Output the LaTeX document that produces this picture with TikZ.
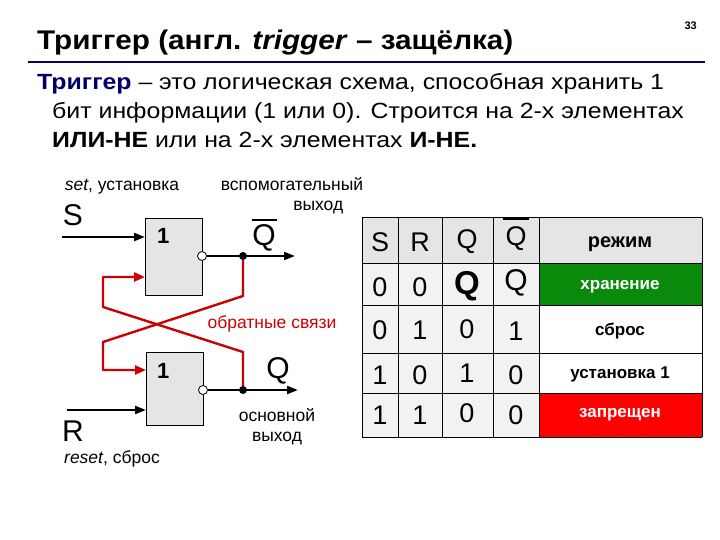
\documentclass[tikz,border=0pt]{standalone}
\usepackage{fontspec}
\setmainfont{Liberation Sans}
\usetikzlibrary{arrows.meta}
\definecolor{navy}{HTML}{000066}
\definecolor{tgreen}{HTML}{0A8A0A}
\definecolor{tred}{HTML}{FF0000}
\definecolor{fbred}{HTML}{CC0000}
\begin{document}
\begin{tikzpicture}[x=1pt,y=-1pt,
  gate/.style={draw,fill=gray!20,line width=1pt},
  wire/.style={line width=2.2pt,-{Triangle[length=11pt,width=8pt]}},
  fb/.style={draw=fbred,line width=2.4pt,line join=round},
  dotn/.style={circle,fill=black,inner sep=0pt,minimum size=8pt},
  inv/.style={circle,draw,fill=white,inner sep=0pt,minimum size=9pt,line width=0.8pt},
  lbl/.style={inner sep=0pt,font=\fontsize{17.5}{20}\selectfont},
  big/.style={inner sep=0pt,font=\fontsize{30}{32}\selectfont},
  cell/.style={draw=black,line width=1pt},
  tv/.style={inner sep=0pt,font=\fontsize{27}{29}\selectfont}]
\useasboundingbox (0,0) rectangle (720,540);
% title
\node[anchor=base west,inner sep=0pt,font=\fontsize{27}{30}\selectfont\bfseries] (title) at (37,50) {\scalebox{1.1}[1]{Триггер (англ. \textit{trigger} – защёлка)}};
\node[anchor=base east,inner sep=0pt,font=\fontsize{11}{12}\selectfont\bfseries] (pg) at (697,30) {33};
\draw[navy,line width=2.2pt] (28,62) coordinate (l1) -- (705,62) coordinate (l2);
\node[anchor=base west,inner sep=0pt,font=\fontsize{22}{24}\selectfont] (p1) at (37,90) {\scalebox{1.13}[1]{\textcolor{navy}{\bfseries Триггер} – это логическая схема, способная хранить 1}};
\node[anchor=base west,inner sep=0pt,font=\fontsize{22}{24}\selectfont] (p2) at (52,119) {\scalebox{1.13}[1]{бит информации (1 или 0). Строится на 2-х элементах}};
\node[anchor=base west,inner sep=0pt,font=\fontsize{22}{24}\selectfont] (p3) at (52,148) {\scalebox{1.13}[1]{\textbf{ИЛИ-НЕ} или на 2-х элементах \textbf{И-НЕ.}}};
% gates
\node[gate,anchor=north west,minimum width=57pt,minimum height=77pt,inner sep=0pt] (g1) at (145,218) {};
\node[gate,anchor=north west,minimum width=57pt,minimum height=73pt,inner sep=0pt] (g2) at (146,352) {};
\node[anchor=north west,inner sep=0pt,font=\fontsize{22}{24}\selectfont\bfseries] (n1) at (157,228) {1};
\node[anchor=north west,inner sep=0pt,font=\fontsize{22}{24}\selectfont\bfseries] (n2) at (157,363) {1};
\node[inv] (i1) at (202,256) {};
\node[inv] (i2) at (203,390) {};
\node[dotn] (d1) at (243,256) {};
\node[dotn] (d2) at (243,390) {};
\coordinate (o1) at (295,256);
\coordinate (o2) at (298,390);
\draw[wire] (i1) -- (o1);
\draw[wire] (i2) -- (o2);
\coordinate (s0) at (62,237); \coordinate (s1) at (145,237);
\coordinate (r0) at (67,410); \coordinate (r1) at (146,410);
\draw[wire] (s0) -- (s1);
\draw[wire] (r0) -- (r1);
% feedback
\coordinate (a1) at (243,296); \coordinate (a2) at (103,342); \coordinate (a3) at (103,370); \coordinate (a4) at (146,370);
\coordinate (b1) at (243,352); \coordinate (b2) at (103,307); \coordinate (b3) at (103,277); \coordinate (b4) at (145,277);
\draw[fb,-{Triangle[length=11pt,width=9pt]}] (d1) -- (a1) -- (a2) -- (a3) -- (a4);
\draw[fb,-{Triangle[length=11pt,width=9pt]}] (d2) -- (b1) -- (b2) -- (b3) -- (b4);
\node[lbl,text=fbred] (fbl) at (272,324) {обратные связи};
% labels
\node[big] (S) at (73,215) {S};
\node[big] (R) at (73,431) {R};
\node[big] (Qb) at (264,238) {Q};
\draw[line width=1.2pt] (252,220) -- (277,220);
\node[big] (Q) at (278,371) {Q};
\node[lbl] (set) at (122,187) {\textit{set}, установка};
\node[lbl] (reset) at (112,459) {\textit{reset}, сброс};
\node[lbl,align=center] (aux) at (292,196) {вспомогательный\\\hspace*{3em}выход};
\node[lbl,align=center] (main) at (277,427) {основной\\выход};
% table
\def\xa{362}\def\xb{398}\def\xc{442}\def\xd{493}\def\xe{539}\def\xf{702}
\fill[gray!10] (\xa,218) rectangle (\xe,437);
\fill[gray!20] (\xa,218) rectangle (\xf,263);
\fill[tgreen] (\xe,263) rectangle (\xf,305);
\fill[tred] (\xe,393) rectangle (\xf,437);
\fill[white] (\xe,305) rectangle (\xf,393);
\foreach \x in {\xa,\xb,\xc,\xd,\xe,\xf} \draw[cell] (\x,218) -- (\x,437);
\foreach \y in {218,263,305,353,393,437} \draw[cell] (\xa,\y) -- (\xf,\y);
\node[tv] (h1) at (380,242) {S};
\node[tv] (h2) at (420,242) {R};
\node[tv] (h3) at (467,242) {Q};
\node[tv] (h4) at (516,239) {Q};
\draw[line width=1.2pt] (503,219) -- (529,219);
\node[inner sep=0pt,font=\fontsize{20}{22}\selectfont\bfseries] (h5) at (620,244) {режим};
\node[tv] (c11) at (380,287) {0};
\node[tv] (c12) at (420,287) {0};
\node[inner sep=0pt,font=\fontsize{33}{35}\selectfont\bfseries] (c13) at (467,286) {Q};
\node[tv,font=\fontsize{30}{32}\selectfont] (c14) at (516,283) {Q};
\node[inner sep=0pt,font=\fontsize{17}{19}\selectfont\bfseries,text=white] (m1) at (620,287) {хранение};
\node[tv] (c21) at (380,330) {0};
\node[tv] (c22) at (420,330) {1};
\node[tv] (c23) at (467,329) {0};
\node[tv] (c24) at (516,331) {1};
\node[inner sep=0pt,font=\fontsize{17}{19}\selectfont\bfseries] (m2) at (620,331) {сброс};
\node[tv] (c31) at (380,375) {1};
\node[tv] (c32) at (420,375) {0};
\node[tv] (c33) at (467,373) {1};
\node[tv] (c34) at (516,375) {0};
\node[inner sep=0pt,font=\fontsize{17}{19}\selectfont\bfseries] (m3) at (620,374) {установка 1};
\node[tv] (c41) at (380,415) {1};
\node[tv] (c42) at (420,415) {1};
\node[tv] (c43) at (467,413) {0};
\node[tv] (c44) at (516,415) {0};
\node[inner sep=0pt,font=\fontsize{17}{19}\selectfont\bfseries,text=white] (m4) at (620,415) {запрещен};
\end{tikzpicture}
\end{document}
